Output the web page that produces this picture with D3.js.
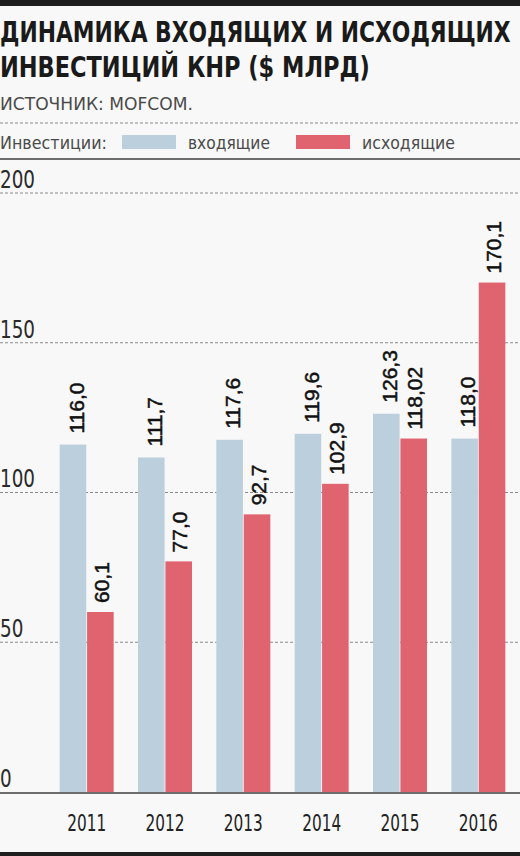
<!DOCTYPE html>
<html><head><meta charset="utf-8">
<script src="https://cdn.jsdelivr.net/npm/d3@7"></script>
<style>
html,body{margin:0;padding:0;background:#f8f8f8;}
svg{display:block;}
</style></head>
<body>
<svg id="chart" width="520" height="856"></svg>
<script>
const years = ["2011","2012","2013","2014","2015","2016"];
const inbound = [116.0, 111.7, 117.6, 119.6, 126.3, 118.0];
const outbound = [60.1, 77.0, 92.7, 102.9, 118.02, 170.1];
const inboundLabels = ["116,0","111,7","117,6","119,6","126,3","118,0"];
const outboundLabels = ["60,1","77,0","92,7","102,9","118,02","170,1"];
const yTicks = [0, 50, 100, 150, 200];
const seriesNames = ["входящие","исходящие"];
const colors = {in:"#bccfdc", out:"#e0646f"};

const narrow = "'Liberation Sans Narrow','DejaVu Sans Condensed','Roboto',sans-serif";
const svg = d3.select("#chart");
const W = 520, H = 856;

// horizontally compress a text around its anchor so it takes a given width
function squeezeTo(node, target){
  const len = node.getComputedTextLength();
  const sx = target / len;
  const x = +node.getAttribute("x") || 0, y = +node.getAttribute("y") || 0;
  node.setAttribute("transform", `translate(${x},${y}) scale(${sx},1) translate(${-x},${-y})`);
  return sx;
}
function squeezeBy(node, sx){
  const x = +node.getAttribute("x") || 0, y = +node.getAttribute("y") || 0;
  node.setAttribute("transform", `translate(${x},${y}) scale(${sx},1) translate(${-x},${-y})`);
}

// frame lines
svg.append("rect").attr("x",0).attr("y",0).attr("width",W).attr("height",6).attr("fill","#1e1e1e");
svg.append("rect").attr("x",0).attr("y",852).attr("width",W).attr("height",4).attr("fill","#1e1e1e");

// title
const t1 = svg.append("text").attr("x",0).attr("y",42).attr("font-family",narrow).attr("font-weight","bold")
  .attr("font-size",29).attr("fill","#1a1a1a").text("ДИНАМИКА ВХОДЯЩИХ И ИСХОДЯЩИХ");
squeezeTo(t1.node(), 511);
const t2 = svg.append("text").attr("x",0).attr("y",77).attr("font-family",narrow).attr("font-weight","bold")
  .attr("font-size",29).attr("fill","#1a1a1a").text("ИНВЕСТИЦИЙ КНР ($ МЛРД)");
squeezeTo(t2.node(), 370);
const src = svg.append("text").attr("x",0).attr("y",110).attr("font-family",narrow)
  .attr("font-size",18.5).attr("fill","#4a4a4a").text("ИСТОЧНИК: MOFCOM.");
squeezeTo(src.node(), 193);

svg.append("line").attr("x1",0).attr("x2",W).attr("y1",123).attr("y2",123)
  .attr("stroke","#8a8a8a").attr("stroke-width",1).attr("stroke-dasharray","3,2");

// legend
const lt = svg.append("text").attr("x",0).attr("y",149).attr("font-family",narrow)
  .attr("font-size",18).attr("fill","#4a4a4a").text("Инвестиции:");
squeezeTo(lt.node(), 107);
const legendItems = [
  {name:seriesNames[0], color:colors.in, sx:122, tx:188, tl:82},
  {name:seriesNames[1], color:colors.out, sx:296, tx:362, tl:93}
];
legendItems.forEach(d=>{
  svg.append("rect").attr("x",d.sx).attr("y",135).attr("width",54).attr("height",14).attr("fill",d.color);
  const t = svg.append("text").attr("x",d.tx).attr("y",149).attr("font-family",narrow)
    .attr("font-size",18).attr("fill","#4a4a4a").text(d.name);
  squeezeTo(t.node(), d.tl);
});
svg.append("line").attr("x1",0).attr("x2",W).attr("y1",159).attr("y2",159)
  .attr("stroke","#6e6e6e").attr("stroke-width",2);

// scales
const y = d3.scaleLinear().domain([0,200]).range([792,193]);
const x0 = d3.scaleBand().domain(years).range([47.5,517.5]).padding(0);
const half = 27;
const x1 = d3.scaleBand().domain(["in","out"]).range([x0.bandwidth()/2-half, x0.bandwidth()/2+half]).paddingInner(0.03);

// gridlines
const grid = svg.append("g");
grid.selectAll("line").data(yTicks.filter(t=>t>0)).join("line")
  .attr("x1",0).attr("x2",W).attr("y1",d=>y(d)).attr("y2",d=>y(d))
  .attr("stroke","#8a8a8a").attr("stroke-width",1).attr("stroke-dasharray","3,2");
const yl = grid.selectAll("text").data(yTicks).join("text")
  .attr("x",0).attr("y",d=>y(d)-5).attr("font-family",narrow).attr("font-size",24)
  .attr("fill","#2a2a2a").text(d=>d);
let ysx = 1;
yl.filter(d=>d===200).each(function(){ ysx = 35 / this.getComputedTextLength(); });
yl.each(function(){ squeezeBy(this, ysx); });

// bars
const groups = svg.append("g").selectAll("g").data(years).join("g")
  .attr("transform",d=>`translate(${x0(d)},0)`);
groups.append("rect").attr("x",x1("in")).attr("width",x1.bandwidth())
  .attr("y",(d,i)=>y(inbound[i])).attr("height",(d,i)=>y(0)-y(inbound[i])).attr("fill",colors.in);
groups.append("rect").attr("x",x1("out")).attr("width",x1.bandwidth())
  .attr("y",(d,i)=>y(outbound[i])).attr("height",(d,i)=>y(0)-y(outbound[i])).attr("fill",colors.out);

// value labels
const lab = "'Liberation Sans',Arial,sans-serif";
groups.append("text")
  .attr("transform",(d,i)=>`translate(${x1("in")+x1.bandwidth()/2+3},${y(inbound[i])-11}) rotate(-90)`)
  .attr("dy","0.36em").attr("font-family",lab).attr("font-size",21).attr("fill","#111")
  .attr("stroke","#111").attr("stroke-width",0.5)
  .text((d,i)=>inboundLabels[i]);
groups.append("text")
  .attr("transform",(d,i)=>`translate(${x1("out")+x1.bandwidth()/2+1},${y(outbound[i])-9}) rotate(-90)`)
  .attr("dy","0.36em").attr("font-family",lab).attr("font-size",21).attr("fill","#111")
  .attr("stroke","#111").attr("stroke-width",0.5)
  .text((d,i)=>outboundLabels[i]);

// x axis
svg.append("line").attr("x1",0).attr("x2",W).attr("y1",793).attr("y2",793)
  .attr("stroke","#6e6e6e").attr("stroke-width",2);
const xAxis = d3.axisBottom(x0).tickSize(0).tickPadding(0);
const xg = svg.append("g").attr("transform","translate(0,815)").call(xAxis);
xg.select(".domain").remove();
const xt = xg.selectAll("text").attr("font-family",narrow).attr("font-size",23).attr("fill","#222")
  .attr("dy","0.71em");
let xsx = 1;
xt.filter((d,i)=>i===0).each(function(){ xsx = 39 / this.getComputedTextLength(); });
xt.each(function(){ squeezeBy(this, xsx); });
</script>
</body></html>
